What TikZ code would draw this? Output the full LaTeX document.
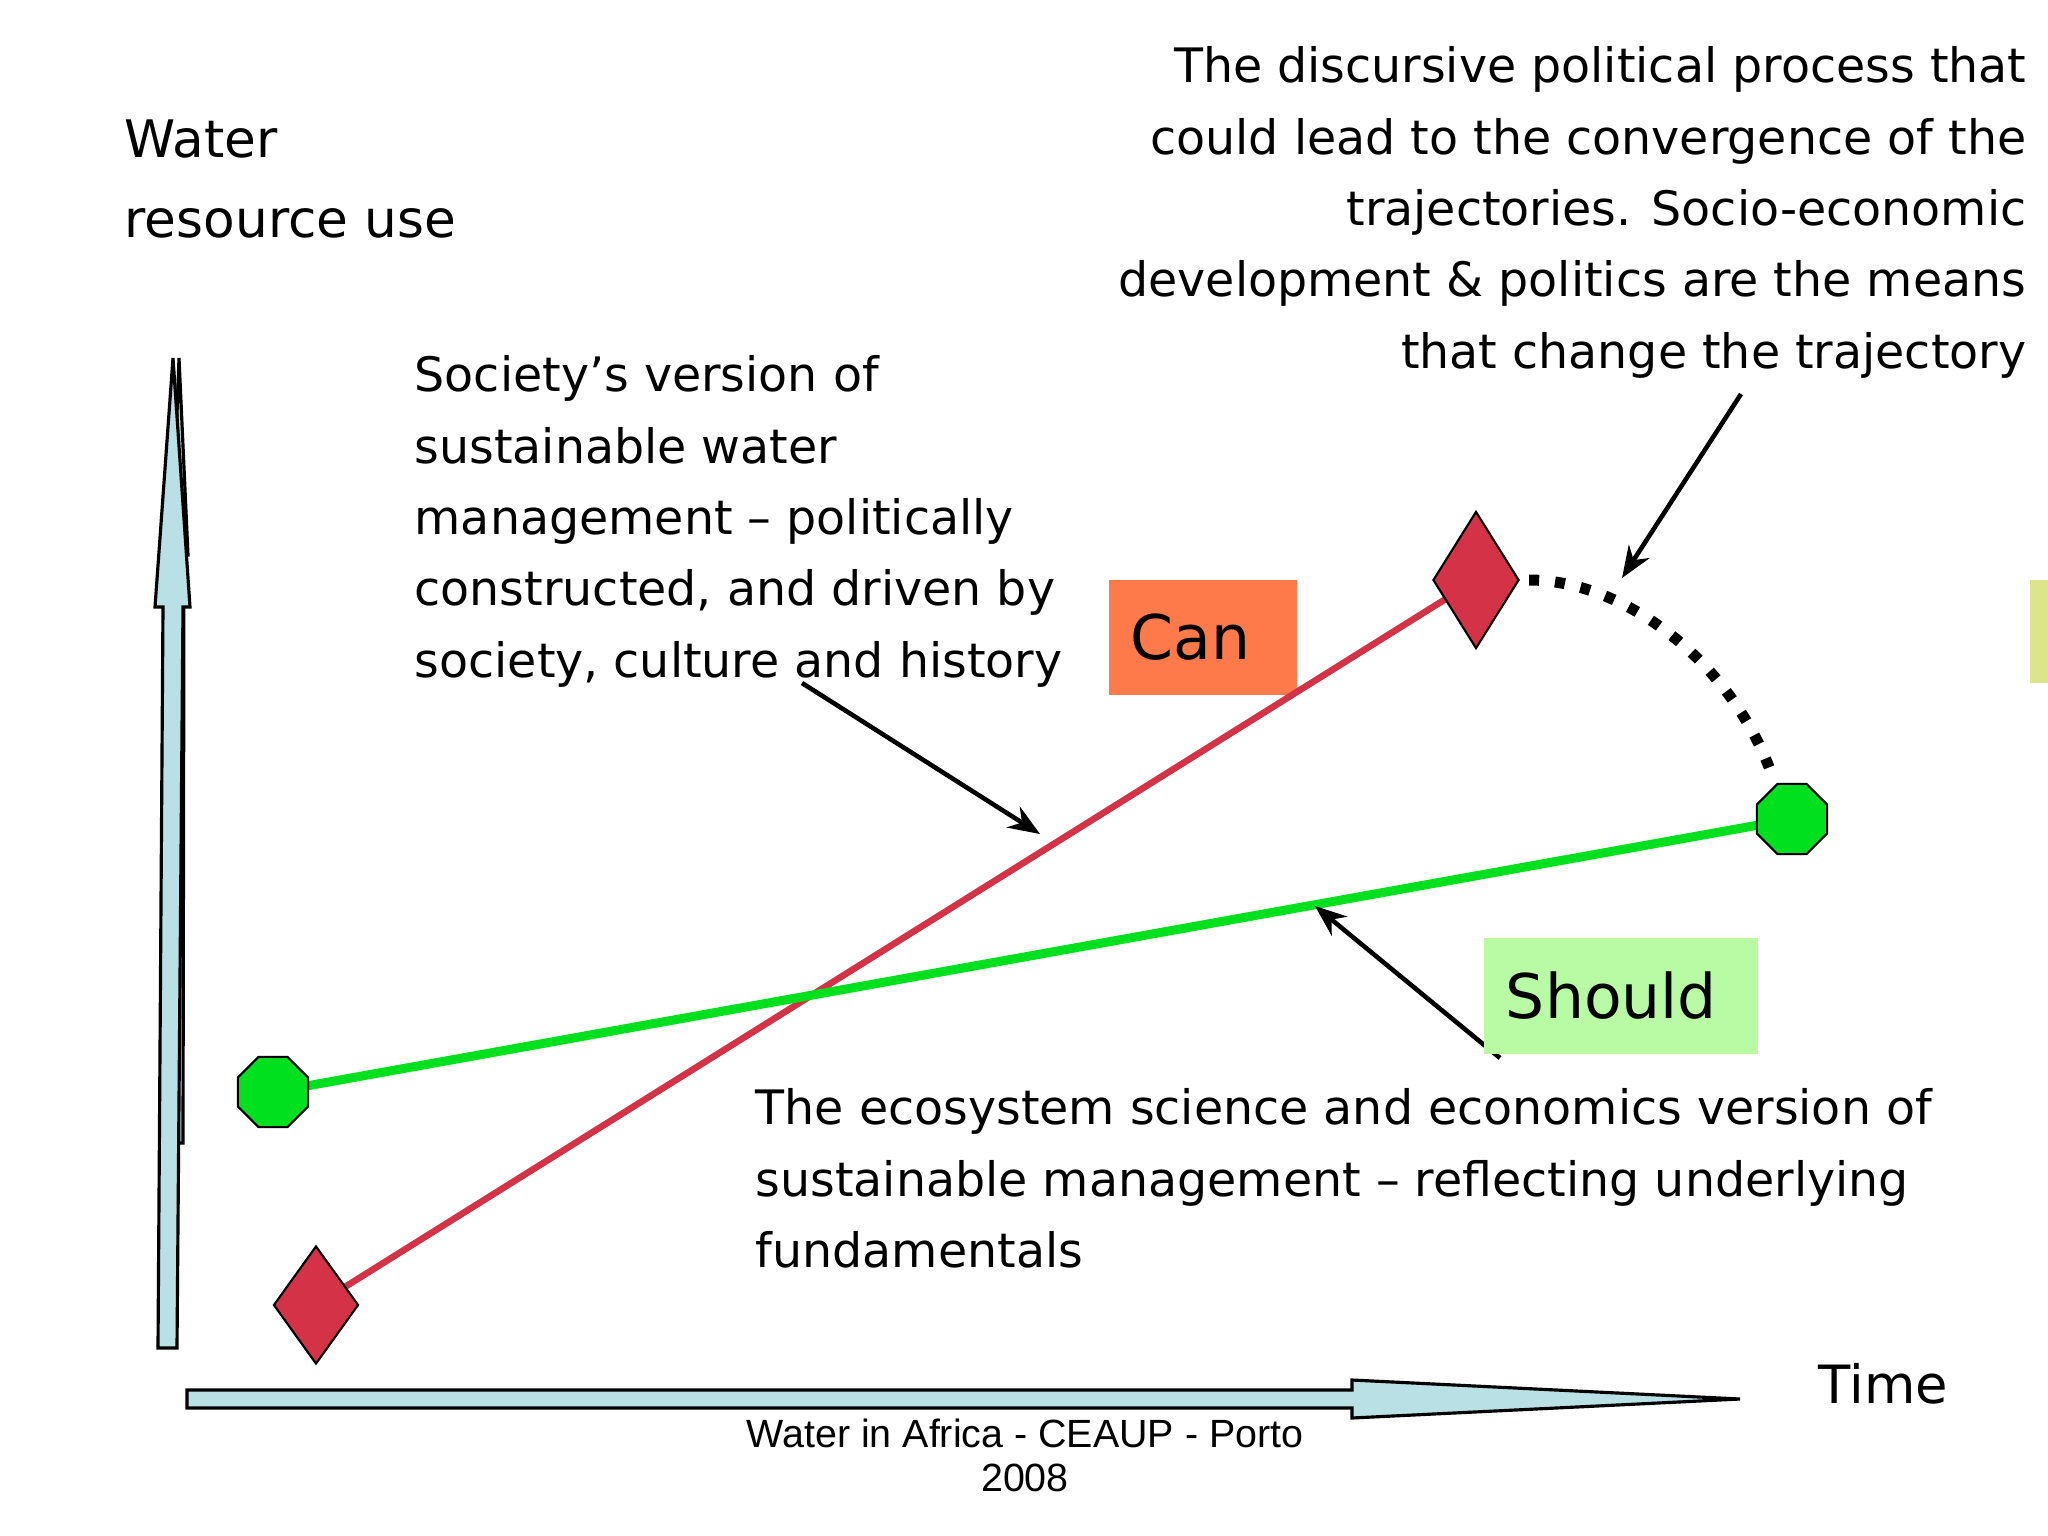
\documentclass[tikz,border=0pt]{standalone}
\usepackage{fontspec}
\setmainfont{DejaVu Sans}
\newfontfamily\arialfont{Liberation Sans}
\usepackage{tikz}
\usetikzlibrary{%
	positioning,%
	arrows.meta,%
	shapes.geometric%
}
\definecolor{axis-blue}{RGB}{185,224,228}
\definecolor{can-red}{RGB}{212,50,70}
\definecolor{should-green}{RGB}{0,224,30}
\definecolor{can-orange}{RGB}{255,122,74}
\definecolor{should-lime}{RGB}{185,250,165}
\definecolor{strip-yellow}{RGB}{220,228,140}

\begin{document}
\begin{tikzpicture}[x=0.01cm,y=-0.01cm,
		bodytext/.style={inner sep=0pt,font=\fontsize{13.5}{20.3}\selectfont},
		pointer/.style={-{Stealth[length=9pt,width=7pt]},line width=1.3pt},
		axisarrow/.style={fill=axis-blue,draw=black,line width=0.9pt},
		reddia/.style={diamond,draw=black,fill=can-red,inner sep=0pt,line width=0.6pt},
		greenoct/.style={regular polygon,regular polygon sides=8,
			draw=black,fill=should-green,inner sep=0pt,minimum size=0.76cm,line width=0.6pt},
		tagbox/.style={inner xsep=0.22cm,inner ysep=0pt,minimum height=1.15cm,
			font=\fontsize{17.5}{20}\selectfont,align=left}
	]
	\useasboundingbox (0,0) rectangle (2048,1536);
	
	% Axes
	\filldraw[axisarrow] (179,358) -- (188,555) -- (184,555) -- (183,1143) -- (176,1143) -- (176,555) -- (172,555) -- cycle;
	\filldraw[axisarrow] (173,358) -- (190,607) -- (183,607) -- (177,1348) -- (158,1348) -- (163,607) -- (155,607) -- cycle;
	\filldraw[axisarrow] (187,1390) -- (1352,1390) -- (1352,1380) -- (1740,1399) -- (1352,1418) -- (1352,1408) -- (187,1408) -- cycle;
	\coordinate (timetip) at (1740,1399);
	
	\node[inner sep=0pt,anchor=north west,align=left,font=\fontsize{14.7}{22.7}\selectfont] (watertitle) at (124,119) {Water\\resource use};
	\node[inner sep=0pt,font=\fontsize{15}{18}\selectfont,right=0.78cm of timetip,yshift=0.15cm] (time) {Time};
	
	% Labels
	\node[tagbox,fill=can-orange,text width=1.44cm] (can) at (1203,637.5) {Can};
	\fill[strip-yellow] (2030,580) rectangle (2048,683);
	
	% Trajectories
	\coordinate (canlo) at (316,1305);
	\coordinate (canhi) at (1476,580);
	\coordinate (shouldlo) at (273,1092);
	\coordinate (shouldhi) at (1792,819);
	\draw[can-red,line width=0.065cm] (canlo) -- (canhi);
	\draw[should-green,line width=0.09cm] (shouldlo) -- (shouldhi);
	\node[reddia,minimum width=0.85cm,minimum height=1.18cm] (dlo) at (canlo) {};
	\node[reddia,minimum width=0.86cm,minimum height=1.37cm] (dhi) at (canhi) {};
	\node[greenoct] (olo) at (shouldlo) {};
	\node[greenoct] (ohi) at (shouldhi) {};
	
	% Convergence
	\draw[line width=0.11cm,dash pattern=on 0.1cm off 0.16cm,shorten <=0.09cm,shorten >=0.18cm]
		(dhi.east) .. controls (1620,580) and (1725,655) .. (ohi.115);
	
	% Text
	\node[bodytext,anchor=north east,align=right] (discourse) at (2027,46) {The discursive political process that\\could lead to the convergence of the\\trajectories. Socio-economic\\development \& politics are the means\\that change the trajectory};
	\node[bodytext,anchor=north west,align=left] (society) at (414,355) {Society’s version of\\sustainable water\\management – politically\\constructed, and driven by\\society, culture and history};
	\node[bodytext,anchor=north west,align=left] (ecosystem) at (755,1088) {The ecosystem science and economics version of\\sustainable management – reflecting underlying\\fundamentals};
	
	% Pointers
	\coordinate (discoursetail) at (1741,394);
	\coordinate (discoursetip) at (1622,578);
	\coordinate (societytail) at (802,683);
	\coordinate (societytip) at (1040,834);
	\coordinate (shouldtail) at (1500,1058);
	\coordinate (shouldtip) at (1315,906);
	\draw[pointer] (discoursetail) -- (discoursetip);
	\draw[pointer] (societytail) -- (societytip);
	\draw[pointer] (shouldtail) -- (shouldtip);
	\node[tagbox,fill=should-lime,text width=2.30cm] (should) at (1621,996) {Should};
	
	% Footer
	\node[font=\arialfont\fontsize{11.2}{12.5}\selectfont,align=center] (footer) at (1025,1455) {Water in Africa - CEAUP - Porto\\2008};
\end{tikzpicture}
\end{document}
